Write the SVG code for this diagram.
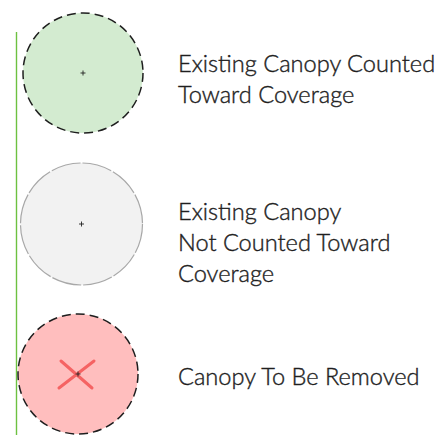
<svg xmlns="http://www.w3.org/2000/svg" width="448" height="435" viewBox="0 0 448 435">
  <style>
    .label { font-family: Lato, "Open Sans", "Liberation Sans", sans-serif; font-size: 23.6px; font-weight: 300; fill: #1f1f1f; stroke: #1f1f1f; stroke-width: 0.4; }
    .edge { stroke: #1e1e1e; stroke-width: 1.5; stroke-dasharray: 9 5; }
    .plus { stroke: #222; stroke-width: 0.9; }
  </style>
  <rect width="448" height="435" fill="#ffffff"/>
  <g id="connectors">
    <line x1="16.5" y1="32" x2="16.5" y2="435" stroke="#6dc141" stroke-width="1.4"/>
  </g>
  <g id="counted">
    <circle cx="83" cy="73" r="60" fill="#d3ebd0" class="edge"/>
    <path class="plus" d="M80.5 73H85.5M83 70.5V75.5"/>
    <text class="label" x="178" y="72">Existing Canopy Counted</text>
    <text class="label" x="178" y="103">Toward Coverage</text>
  </g>
  <g id="not-counted">
    <circle cx="81.5" cy="224" r="61" fill="#f2f2f2" stroke="#a8a8a8" stroke-width="1.2" stroke-dasharray="30 2"/>
    <path class="plus" stroke="#888" d="M79 224H84M81.5 221.5V226.5"/>
    <text class="label" x="178" y="220">Existing Canopy</text>
    <text class="label" x="178" y="251">Not Counted Toward</text>
    <text class="label" x="178" y="282">Coverage</text>
  </g>
  <g id="removed">
    <circle cx="78" cy="374" r="60" fill="#ffbebe" class="edge"/>
    <path d="M61 361L92 388M94 361L59 388" stroke="#f55a5a" stroke-width="3" stroke-linecap="round" opacity="0.9"/>
    <path class="plus" d="M75.5 374H80.5M78 371.5V376.5"/>
    <text class="label" x="178" y="385">Canopy To Be Removed</text>
  </g>
</svg>
